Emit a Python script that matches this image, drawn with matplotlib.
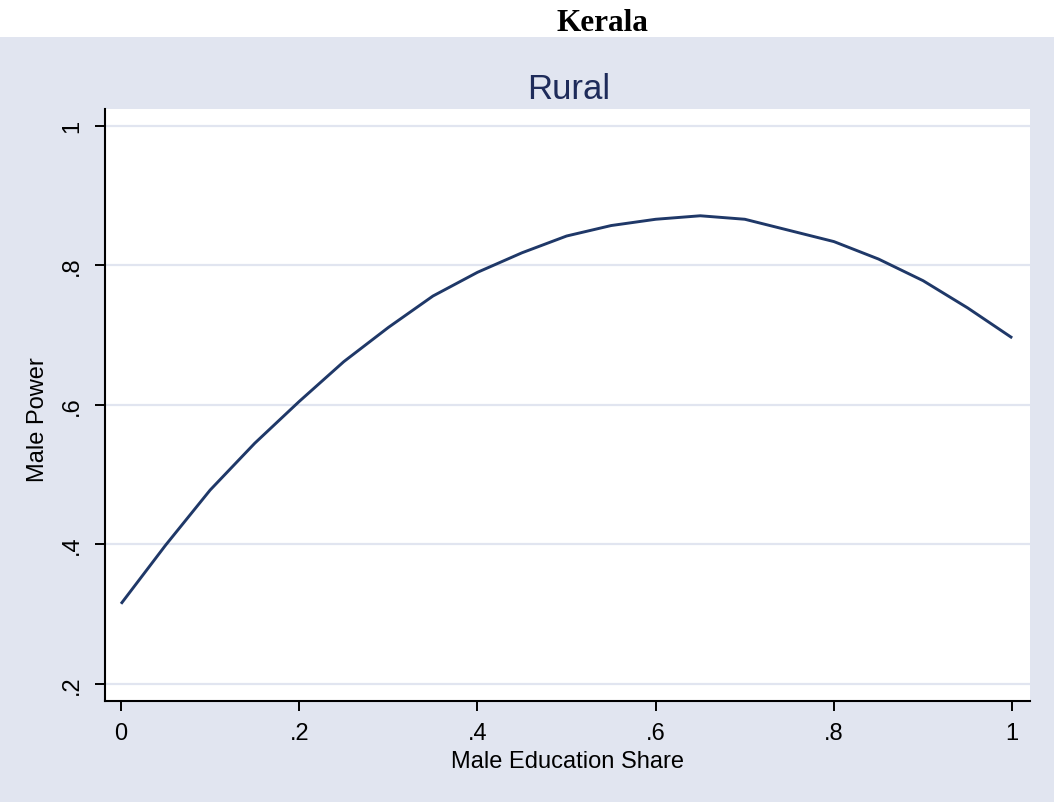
import matplotlib.pyplot as plt
from matplotlib.patches import Rectangle

# Fitted male power against male education share (Kerala, rural)
male_edu_share = [0.00, 0.05, 0.10, 0.15, 0.20, 0.25, 0.30, 0.35, 0.40, 0.45, 0.50,
                  0.55, 0.60, 0.65, 0.70, 0.75, 0.80, 0.85, 0.90, 0.95, 1.00]
male_power = [0.315, 0.399, 0.478, 0.545, 0.605, 0.662, 0.711, 0.756, 0.790, 0.818, 0.842,
              0.857, 0.866, 0.871, 0.866, 0.850, 0.834, 0.809, 0.778, 0.739, 0.696]

x_ticks = [0, 0.2, 0.4, 0.6, 0.8, 1.0]
x_tick_labels = ["0", ".2", ".4", ".6", ".8", "1"]
y_ticks = [0.2, 0.4, 0.6, 0.8, 1.0]
y_tick_labels = [".2", ".4", ".6", ".8", "1"]

BG = "#E1E5F0"
NAVY = "#1F3868"
TITLE_NAVY = "#1E2B5A"
SANS = ["Liberation Sans", "DejaVu Sans"]

W, H = 1054, 803
fig = plt.figure(figsize=(W / 100, H / 100), dpi=100, facecolor="white")

# shaded graph region below the white header strip
fig.patches.append(Rectangle((0, 0), 1, (H - 38) / H, transform=fig.transFigure,
                             facecolor=BG, edgecolor="none", zorder=0))

left, right, top, bottom = 105, 1030, 110, 702
ax = fig.add_axes([left / W, 1 - bottom / H, (right - left) / W, (bottom - top) / H])
ax.set_zorder(2)
ax.set_facecolor("white")

ax.plot(male_edu_share, male_power, color=NAVY, lw=2.1, zorder=3,
        solid_joinstyle="round", solid_capstyle="butt")

ax.set_xlim(-0.018, 1.020)
ax.set_ylim(0.1757, 1.024)

ax.set_xticks(x_ticks)
ax.set_xticklabels(x_tick_labels, fontfamily=SANS, fontsize=17)
ax.set_yticks(y_ticks)
ax.set_yticklabels(y_tick_labels, fontfamily=SANS, fontsize=17, rotation=90)
for lab in ax.get_yticklabels():
    lab.set_va("center")

ax.tick_params(axis="both", direction="out", length=7.2, width=1.4, color="black")
ax.tick_params(axis="x", pad=8)
ax.tick_params(axis="y", pad=8.5)

ax.grid(axis="y", color=BG, lw=1.6, zorder=1)
ax.set_axisbelow(True)

for side in ["top", "right"]:
    ax.spines[side].set_visible(False)
for side in ["left", "bottom"]:
    ax.spines[side].set_linewidth(1.5)
    ax.spines[side].set_color("black")

# titles and axis titles
fig.text(602 / W, 1 - 31 / H, "Kerala", ha="center", va="baseline",
         fontfamily=["Liberation Serif", "DejaVu Serif"], fontweight="bold", fontsize=22.5)
fig.text(568.5 / W, 1 - 99 / H, "Rural", ha="center", va="baseline",
         fontfamily=SANS, fontsize=25, color=TITLE_NAVY)
fig.text(567.5 / W, 1 - 768 / H, "Male Education Share", ha="center", va="baseline",
         fontfamily=SANS, fontsize=17)
fig.text(38 / W, 1 - 420 / H, "Male Power", ha="center", va="center", rotation=90,
         fontfamily=SANS, fontsize=17)

fig.savefig("out.png", dpi=100, facecolor=fig.get_facecolor())
